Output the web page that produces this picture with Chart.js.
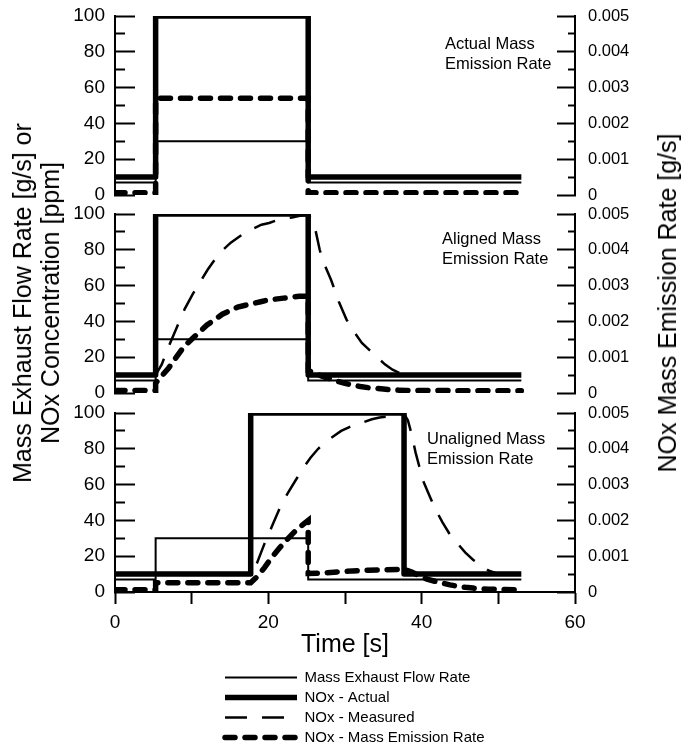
<!DOCTYPE html>
<html lang="en">
<head>
<meta charset="UTF-8">
<title>NOx Mass Emission Rate - Time Alignment</title>
<script src="https://cdn.jsdelivr.net/npm/chart.js"></script>
<style>
    body {
        margin: 0;
        background: #fff;
        font-family: 'Liberation Sans', Arial, sans-serif;
        color: #000;
    }

    .figure {
        position: relative;
        width: 683px;
        height: 752px;
        overflow: hidden;
    }

    .figure canvas {
        position: absolute;
        left: 0;
    }

    .note {
        position: absolute;
        font-size: 16.5px;
        line-height: 20px;
        white-space: nowrap;
    }

    .axis-title {
        position: absolute;
        font-size: 25px;
        line-height: 28px;
        white-space: nowrap;
        text-align: center;
        transform: translate(-50%, -50%) rotate(-90deg);
    }
</style>
</head>
<body>
<div class="figure">
    <canvas id="actualChart" width="683" height="203" style="top:4px"></canvas>
    <canvas id="alignedChart" width="683" height="203" style="top:202px"></canvas>
    <canvas id="unalignedChart" width="683" height="261" style="top:401px"></canvas>
    <canvas id="legendChart" width="640" height="87" style="top:665px; left:220px"></canvas>

    <div class="note" style="left:445px; top:33px">Actual Mass<br>Emission Rate</div>
    <div class="note" style="left:442px; top:228px">Aligned Mass<br>Emission Rate</div>
    <div class="note" style="left:427px; top:428px">Unaligned Mass<br>Emission Rate</div>

    <div class="axis-title" style="left:36px; top:303px">Mass Exhaust Flow Rate [g/s] or<br>NOx Concentration [ppm]</div>
    <div class="axis-title" style="left:667px; top:303px">NOx Mass Emission Rate [g/s]</div>
</div>

<script>
    // Step test time bases [s]
    const stepTimes = [0, 5.3, 5.3, 25.2, 25.2, 53];
    const delayedStepTimes = [0, 17.7, 17.7, 37.7, 37.7, 53];

    // Mass exhaust flow rate [g/s] and actual NOx [ppm]
    const flowRate = [7, 7, 30, 30, 7, 7];
    const noxActual = [10, 10, 100, 100, 10, 10];

    // Actual mass emission rate [g/s]
    const actualRate = [0.00006, 0.00006, 0.0027, 0.0027, 0.00006, 0.00006];

    // Aligned case: measured NOx [ppm]
    const alignedMeasTimes = [0, 5.3, 6.1, 7.1, 8.1, 9.1, 10.1, 11.1, 12.1, 13.1, 14.1, 15.1, 16.1, 17.1,
        18.1, 19.1, 20.1, 21.1, 22.1, 23.1, 24.1, 25.2, 25.7, 26.2, 26.7, 27.2, 27.7, 28.2, 28.7, 29.2,
        29.7, 30.2, 31.2, 32.2, 33.2, 34.2, 35.2, 36.2, 37.2, 38.2, 53];
    const alignedMeasured = [10, 10, 16, 27, 37, 47, 55, 62, 69, 75, 80, 84, 87, 90,
        92, 94, 95, 96.5, 97.5, 98, 99, 99.5, 97, 90, 80, 73, 68, 63, 57, 51,
        46, 41, 34, 28, 24, 20, 16, 13, 11, 10, 10];

    // Aligned case: mass emission rate [g/s]
    const alignedRateTimes = [0, 5.3, 5.3, 6, 7, 8, 9, 10, 11, 12, 13, 14, 15, 16, 17, 18, 19, 20, 22, 24,
        25.2, 25.2, 26, 27, 28, 29, 30, 31, 32, 33, 34, 35, 36, 37, 38, 53];
    const alignedRate = [0.00007, 0.00007, 0.00028, 0.00045, 0.0007, 0.001, 0.0013, 0.0015, 0.0017,
        0.0019, 0.00205, 0.0022, 0.0023, 0.0024, 0.00245, 0.0025, 0.00255, 0.0026, 0.00265, 0.0027,
        0.0027, 0.00062, 0.00057, 0.00047, 0.0004, 0.00033, 0.00027, 0.00022, 0.00018, 0.00015,
        0.00013, 0.00011, 0.00009, 0.00008, 0.00007, 0.00006];

    // Unaligned case: measured NOx [ppm]
    const unalignedMeasTimes = [0, 17.7, 18.5, 19.5, 20.5, 21.5, 22.5, 23.5, 24.5, 25.5, 26.5, 27.5, 28.5,
        29.5, 30.5, 31.5, 32.5, 33.5, 34.5, 35.5, 36.5, 37.7, 38.2, 38.7, 39.2, 39.7, 40.2, 40.7, 41.2,
        41.7, 42.2, 42.7, 43.7, 44.7, 45.7, 46.7, 47.7, 48.7, 49.7, 53];
    const unalignedMeasured = [10, 10, 16, 27, 37, 47, 55, 62, 69, 75, 80, 84, 87,
        90, 92, 94, 95, 96.5, 97.5, 98, 99, 99.5, 96, 88, 78, 70, 62, 57, 52,
        47, 43, 39, 32, 27, 22, 18, 15, 12, 10.5, 10];

    // Unaligned case: mass emission rate [g/s]
    const unalignedRateTimes = [0, 5.3, 5.3, 17.7, 18.5, 19.5, 20.5, 21.5, 22.5, 23.5, 24.5, 25.2, 25.2,
        27, 29, 31, 33, 35, 37.7, 38.7, 39.7, 40.7, 41.7, 42.7, 43.7, 44.7, 45.7, 46.7, 47.7, 48.7, 50, 53];
    const unalignedRate = [0.00006, 0.00006, 0.00026, 0.00026, 0.00042, 0.00068, 0.00098, 0.00124,
        0.00148, 0.0017, 0.00188, 0.002, 0.00052, 0.00053, 0.00056, 0.00059, 0.00061, 0.00062, 0.00063,
        0.00056, 0.00045, 0.00036, 0.0003, 0.00025, 0.0002, 0.00016, 0.00013, 0.00011, 0.00009,
        0.00008, 0.00007, 0.00006];

    const seriesNames = ['Mass Exhaust Flow Rate', 'NOx - Actual', 'NOx - Measured', 'NOx - Mass Emission Rate'];

    const FONT = "'Liberation Sans', Arial, sans-serif";
    Chart.defaults.font.family = FONT;
    Chart.defaults.color = '#000';

    // line styles, one per series
    const flowStyle = { label: seriesNames[0], borderColor: '#000', borderWidth: 2 };
    const actualStyle = { label: seriesNames[1], borderColor: '#000', borderWidth: 5.5, borderJoinStyle: 'round' };
    const measuredStyle = { label: seriesNames[2], borderColor: '#000', borderWidth: 2.5, borderDash: [22, 15] };
    const rateStyle = { label: seriesNames[3], borderColor: '#000', borderWidth: 5.5, borderDash: [10, 10],
        borderCapStyle: 'round', yAxisID: 'y2' };

    function points(times, values) {
        return times.map((t, i) => ({ x: t, y: values[i] }));
    }

    // fixed axis box width; the label padding must not push the plot area in
    function fixWidth(width) {
        return s => {
            s.width = width;
            s.paddingTop = 0;
            s.paddingBottom = 0;
        };
    }

    // Minor ticks are cut short with a dash pattern. Left ticks are stroked
    // from their inner end towards the axis, right ticks from the axis inwards.
    const leftMinorTick = c => (c.index % 2 ? [0, 10, 10, 60] : []);
    const rightMinorTick = c => (c.index % 2 ? [8, 60] : []);

    function createPanel(canvasId, datasets, showTime) {
        return new Chart(document.getElementById(canvasId), {
            type: 'line',
            data: { datasets: datasets },
            options: {
                responsive: false,
                animation: false,
                events: [],
                layout: { padding: { top: 12, bottom: showTime ? 0 : 12, left: 0, right: 0 } },
                elements: { point: { radius: 0 }, line: { tension: 0 } },
                plugins: { legend: { display: false }, tooltip: { enabled: false } },
                scales: {
                    x: {
                        type: 'linear',
                        display: showTime,
                        min: 0,
                        max: 60,
                        ticks: {
                            stepSize: 10,
                            autoSkip: false,
                            maxRotation: 0,
                            padding: 7,
                            font: { size: 19 },
                            callback: v => (Math.round(v) % 20 === 0 ? String(Math.round(v)) : '')
                        },
                        grid: { drawOnChartArea: false, tickLength: 12, tickWidth: 2, tickColor: '#000' },
                        border: { display: true, width: 2, color: '#000' },
                        title: { display: true, text: 'Time [s]', font: { size: 25 }, padding: { top: 0, bottom: 2 } },
                        afterFit: s => {
                            if (showTime) {
                                s.height = 70;
                            }
                        }
                    },
                    y: {
                        position: 'left',
                        min: 0,
                        max: 100,
                        ticks: {
                            stepSize: 10,
                            autoSkip: false,
                            padding: 30,
                            font: { size: 19 },
                            callback: v => (Math.round(v) % 20 === 0 ? String(Math.round(v)) : '')
                        },
                        // inward ticks
                        grid: {
                            drawOnChartArea: false,
                            tickLength: -20,
                            tickWidth: 2,
                            tickColor: '#000',
                            tickBorderDash: leftMinorTick
                        },
                        border: { display: true, width: 2, color: '#000' },
                        afterFit: fixWidth(115)
                    },
                    y2: {
                        position: 'right',
                        min: 0,
                        max: 0.005,
                        ticks: {
                            stepSize: 0.0005,
                            autoSkip: false,
                            padding: 31,
                            font: { size: 16.5 },
                            callback: v => {
                                const k = Math.round(v / 0.0005);
                                if (k % 2) return '';
                                return k === 0 ? '0' : (k / 2000).toFixed(3);
                            }
                        },
                        grid: {
                            drawOnChartArea: false,
                            tickLength: -18,
                            tickWidth: 2,
                            tickColor: '#000',
                            tickBorderDash: rightMinorTick
                        },
                        border: { display: true, width: 2, color: '#000' },
                        afterFit: fixWidth(108)
                    }
                }
            }
        });
    }

    createPanel('actualChart', [
        { ...flowStyle, data: points(stepTimes, flowRate) },
        { ...actualStyle, data: points(stepTimes, noxActual) },
        { ...rateStyle, data: points(stepTimes, actualRate) }
    ], false);

    createPanel('alignedChart', [
        { ...flowStyle, data: points(stepTimes, flowRate) },
        { ...actualStyle, data: points(stepTimes, noxActual) },
        { ...measuredStyle, data: points(alignedMeasTimes, alignedMeasured) },
        { ...rateStyle, data: points(alignedRateTimes, alignedRate) }
    ], false);

    createPanel('unalignedChart', [
        { ...flowStyle, data: points(stepTimes, flowRate) },
        { ...actualStyle, data: points(delayedStepTimes, noxActual) },
        { ...measuredStyle, data: points(unalignedMeasTimes, unalignedMeasured) },
        { ...rateStyle, data: points(unalignedRateTimes, unalignedRate) }
    ], true);

    // Legend: stacked line samples on the left of an otherwise empty chart
    new Chart(document.getElementById('legendChart'), {
        type: 'line',
        data: {
            datasets: [flowStyle, actualStyle, measuredStyle, rateStyle].map(s => ({ ...s, yAxisID: 'y', data: [] }))
        },
        options: {
            responsive: false,
            animation: false,
            events: [],
            layout: { padding: 0 },
            scales: { x: { display: false }, y: { display: false } },
            plugins: {
                tooltip: { enabled: false },
                legend: {
                    position: 'left',
                    align: 'start',
                    maxWidth: 440,
                    labels: {
                        usePointStyle: true,
                        pointStyleWidth: 72,
                        boxWidth: 72,
                        padding: 5,
                        font: { size: 15 },
                        generateLabels: chart => chart.data.datasets.map((d, i) => ({
                            text: d.label,
                            datasetIndex: i,
                            hidden: false,
                            fillStyle: '#000',
                            strokeStyle: '#000',
                            lineWidth: d.borderWidth,
                            lineDash: d.borderDash || [],
                            lineCap: d.borderCapStyle || 'butt',
                            pointStyle: 'line'
                        }))
                    }
                }
            }
        }
    });
</script>
</body>
</html>
